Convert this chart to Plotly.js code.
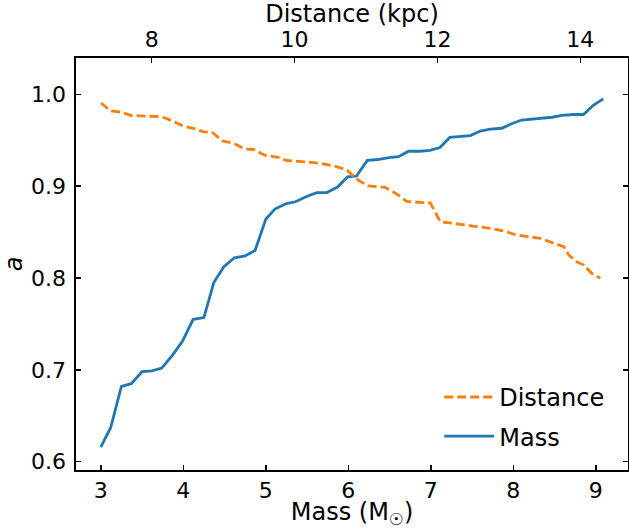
<!DOCTYPE html>
<html>
<head>
<meta charset="utf-8">
<script src="https://cdn.plot.ly/plotly-3.0.1.min.js"></script>
<style>html,body{margin:0;padding:0;background:#fff;}#chart{width:629px;height:529px;}</style>
</head>
<body>
<div id="chart"></div>
<script>
// Mass curve (bottom axis)
const massX = [3.00,3.12,3.25,3.37,3.50,3.62,3.74,3.87,3.99,4.12,4.25,4.37,4.49,4.62,4.75,4.87,5.00,5.11,5.25,5.36,5.50,5.62,5.74,5.87,5.99,6.10,6.23,6.36,6.49,6.61,6.73,6.87,6.99,7.11,7.23,7.35,7.48,7.60,7.72,7.86,7.98,8.10,8.22,8.35,8.47,8.59,8.73,8.85,8.97,9.09];
const massA = [0.616,0.637,0.682,0.685,0.698,0.699,0.702,0.716,0.731,0.755,0.757,0.795,0.812,0.822,0.824,0.830,0.864,0.875,0.881,0.883,0.889,0.893,0.893,0.899,0.910,0.911,0.928,0.929,0.931,0.932,0.938,0.938,0.939,0.942,0.953,0.954,0.955,0.960,0.962,0.963,0.968,0.972,0.973,0.974,0.975,0.977,0.978,0.978,0.988,0.995];
// Distance curve (top axis)
const distX = [7.29,7.42,7.56,7.72,8.12,8.19,8.28,8.44,8.58,8.72,8.85,8.99,9.14,9.31,9.43,9.59,9.77,9.89,10.17,10.36,10.59,10.73,10.89,11.03,11.27,11.43,11.57,11.90,12.04,12.27,12.50,12.74,12.97,13.11,13.25,13.44,13.63,13.77,13.84,13.95,14.05,14.16,14.28];
const distA = [0.9905,0.9821,0.9807,0.9769,0.9756,0.9742,0.9713,0.9655,0.9630,0.9593,0.9584,0.9492,0.9467,0.9404,0.9399,0.9334,0.9314,0.9279,0.9263,0.9249,0.9212,0.9176,0.9067,0.9002,0.8987,0.8915,0.8833,0.8817,0.8613,0.8593,0.8566,0.8541,0.8504,0.8467,0.8450,0.8432,0.8378,0.8341,0.8250,0.8177,0.8141,0.8051,0.7997];
const massTicks = [3,4,5,6,7,8,9];
const distTicks = [8,10,12,14];
const aTicks = [0.6,0.7,0.8,0.9,1.0];

const tickFont = {family:'DejaVu Sans', size:22, color:'#000'};
const titleFont = {family:'DejaVu Sans', size:24, color:'#000'};

const traces = [
  {x: distX, y: distA, xaxis:'x2', yaxis:'y', mode:'lines', name:'Distance', legendgroup:'d',
   line:{color:'#ff7f0e', width:2.8, dash:'9px,4px'}},
  {x: massX, y: massA, xaxis:'x', yaxis:'y', mode:'lines', name:'Mass', legendgroup:'m',
   line:{color:'#1f77b4', width:2.8}}
];

const layout = {
  width:629, height:529,
  margin:{l:76, r:1, t:58, b:59},
  paper_bgcolor:'#fff', plot_bgcolor:'#fff',
  font: titleFont,
  showlegend:true,
  legend:{x:0.658, y:0.027, xanchor:'left', yanchor:'bottom', bgcolor:'rgba(0,0,0,0)',
          font:titleFont, traceorder:'grouped', tracegroupgap:5, itemwidth:50},
  xaxis:{range:[2.70,9.39], tickvals:massTicks, ticktext:massTicks.map(String),
         ticks:'inside', ticklen:5, tickwidth:1.5, tickcolor:'#000',
         showline:true, linecolor:'#000', linewidth:1.6, mirror:true,
         showgrid:false, zeroline:false, tickfont:tickFont,
         title:{text:'Mass (M<sub>☉</sub>)', font:titleFont, standoff:7}},
  xaxis2:{range:[6.94,14.668], overlaying:'x', side:'top', anchor:'y',
          tickvals:distTicks, ticktext:distTicks.map(String),
          ticks:'inside', ticklen:5, tickwidth:1.5, tickcolor:'#000',
          ticklabelstandoff:6,
          showline:false, showgrid:false, zeroline:false, tickfont:tickFont,
          title:{text:'Distance (kpc)', font:titleFont, standoff:0}},
  yaxis:{range:[0.591,1.0395], tickvals:aTicks, ticktext:aTicks.map(v=>v.toFixed(1)),
         ticks:'inside', ticklen:5, tickwidth:1.5, tickcolor:'#000',
         ticklabelstandoff:4,
         showline:true, linecolor:'#000', linewidth:1.6, mirror:'ticks',
         showgrid:false, zeroline:false, tickfont:tickFont,
         title:{text:'<i>a</i>', font:titleFont, standoff:4}}
};

Plotly.newPlot('chart', traces, layout, {staticPlot:true, displayModeBar:false});
</script>
</body>
</html>
